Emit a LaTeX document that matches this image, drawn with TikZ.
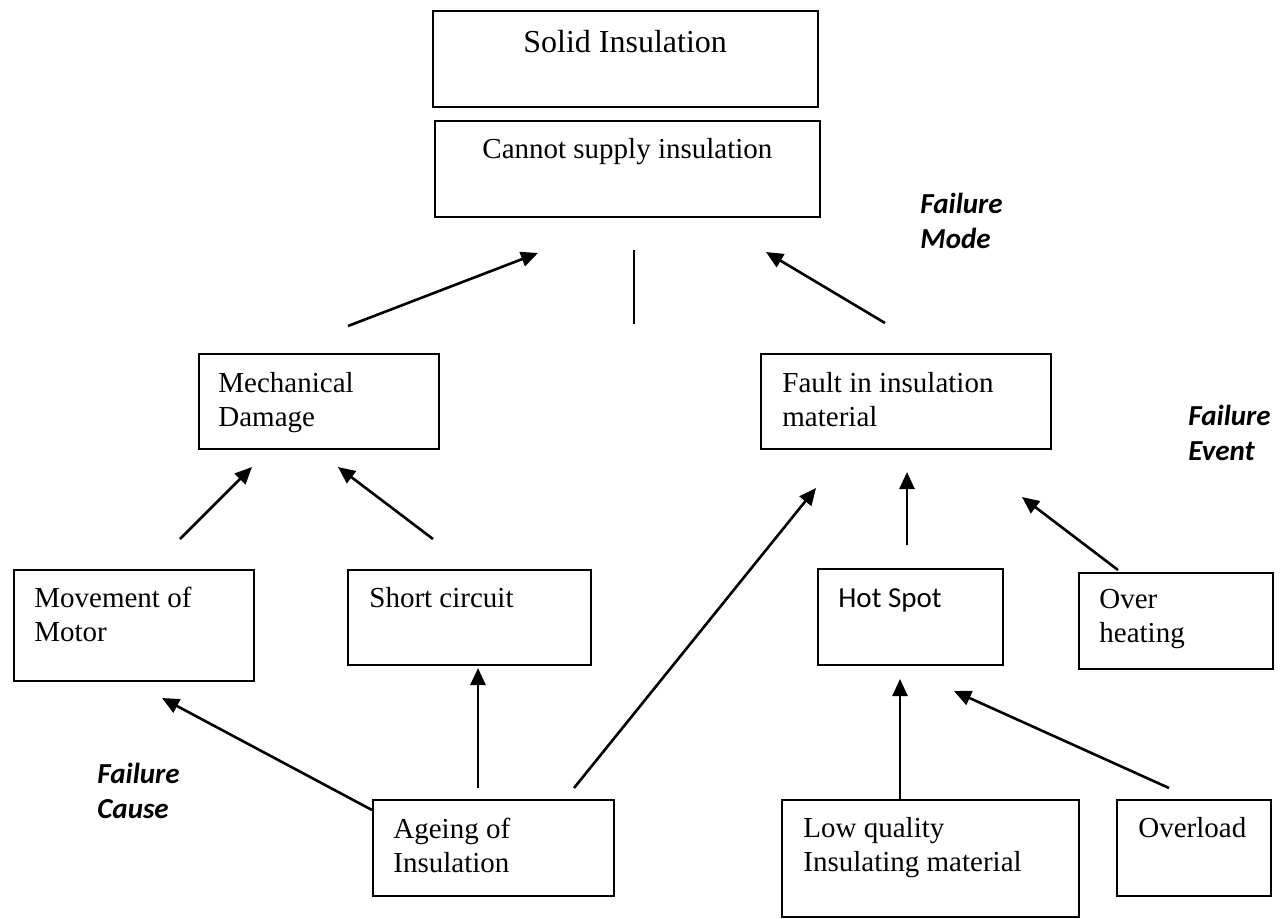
\documentclass[tikz,border=0pt]{standalone}
\usepackage{fontspec}
\setmainfont{Liberation Serif}
\newfontfamily\calibri{Carlito}
\usetikzlibrary{arrows.meta}

\tikzset{
  box/.style={draw, line width=1.15pt, anchor=north west, inner sep=0pt},
  txt/.style={anchor=north west, inner sep=0pt, align=left,
    font=\fontsize{14.5}{16.75}\selectfont},
  tag/.style={anchor=north west, inner sep=0pt, align=left,
    font=\calibri\bfseries\itshape\fontsize{14.5}{17.5}\selectfont},
  link/.style={line width=1.3pt, -{Triangle[length=8.5pt,width=7.5pt]}},
}

\begin{document}
\begin{tikzpicture}[x=0.5pt, y=-0.5pt]
    \useasboundingbox (0,0) rectangle (1283,918);

    % boxes
    \node[box, minimum width=192.5pt, minimum height=48pt] (solid) at (432,10) {};
    \node[box, minimum width=192.5pt, minimum height=48pt] (fmode) at (434,120) {};
    \node[box, minimum width=120pt, minimum height=47.5pt] (mech) at (198,353) {};
    \node[box, minimum width=145pt, minimum height=47.5pt] (fault) at (760,353) {};
    \node[box, minimum width=120pt, minimum height=55.5pt] (move) at (13,569) {};
    \node[box, minimum width=121.5pt, minimum height=47.5pt] (short) at (347,569) {};
    \node[box, minimum width=92.5pt, minimum height=48pt] (hot) at (817,568) {};
    \node[box, minimum width=97pt, minimum height=48pt] (heat) at (1078,572) {};
    \node[box, minimum width=120.5pt, minimum height=48pt] (age) at (372,799) {};
    \node[box, minimum width=148.5pt, minimum height=58.5pt] (low) at (781,799) {};
    \node[box, minimum width=77pt, minimum height=48pt] (load) at (1116,799) {};

    % texts
    \node[txt, font=\fontsize{16}{18}\selectfont] (solidT) at (523,30) {Solid Insulation};
    \node[txt] (fmodeT) at (482,138) {Cannot supply insulation};
    \node[txt] (mechT) at (218,372) {Mechanical\\Damage};
    \node[txt] (faultT) at (782,372) {Fault in insulation\\material};
    \node[txt] (moveT) at (34,587) {Movement of\\Motor};
    \node[txt] (shortT) at (369,587) {Short circuit};
    \node[txt, font=\calibri\fontsize{14.5}{16.75}\selectfont] (hotT) at (838,588) {Hot Spot};
    \node[txt] (heatT) at (1099,589) {Over\\heating};
    \node[txt] (ageT) at (393,818) {Ageing of\\Insulation};
    \node[txt] (lowT) at (803,817) {Low quality\\Insulating material};
    \node[txt] (loadT) at (1138,817) {Overload};

    \node[tag] (modeL) at (920,193) {Failure\\Mode};
    \node[tag] (eventL) at (1188,405) {Failure\\Event};
    \node[tag] (causeL) at (97,763) {Failure\\Cause};

    % arrow ends
    \coordinate (a1) at (348,326);  \coordinate (b1) at (538,253);
    \coordinate (a2) at (634,324);  \coordinate (b2) at (634,250);
    \coordinate (a3) at (885,323);  \coordinate (b3) at (766,252);
    \coordinate (a4) at (180,539);  \coordinate (b4) at (252,467);
    \coordinate (a5) at (433,539);  \coordinate (b5) at (338,467);
    \coordinate (a6) at (574,788);  \coordinate (b6) at (816,488);
    \coordinate (a7) at (907,545);  \coordinate (b7) at (907,472);
    \coordinate (a8) at (1118,570); \coordinate (b8) at (1022,497);
    \coordinate (a9) at (372,810);  \coordinate (b9) at (162,698);
    \coordinate (a10) at (478,788); \coordinate (b10) at (478,668);
    \coordinate (a11) at (900,799); \coordinate (b11) at (900,679);
    \coordinate (a12) at (1169,788); \coordinate (b12) at (954,691);

    % connectors
    \foreach \i in {1,3,4,5,6,7,8,9,10,11,12}
    \draw[link] (a\i) -- (b\i);
    \draw[line width=1.3pt] (a2) -- (b2);

\end{tikzpicture}
\end{document}
